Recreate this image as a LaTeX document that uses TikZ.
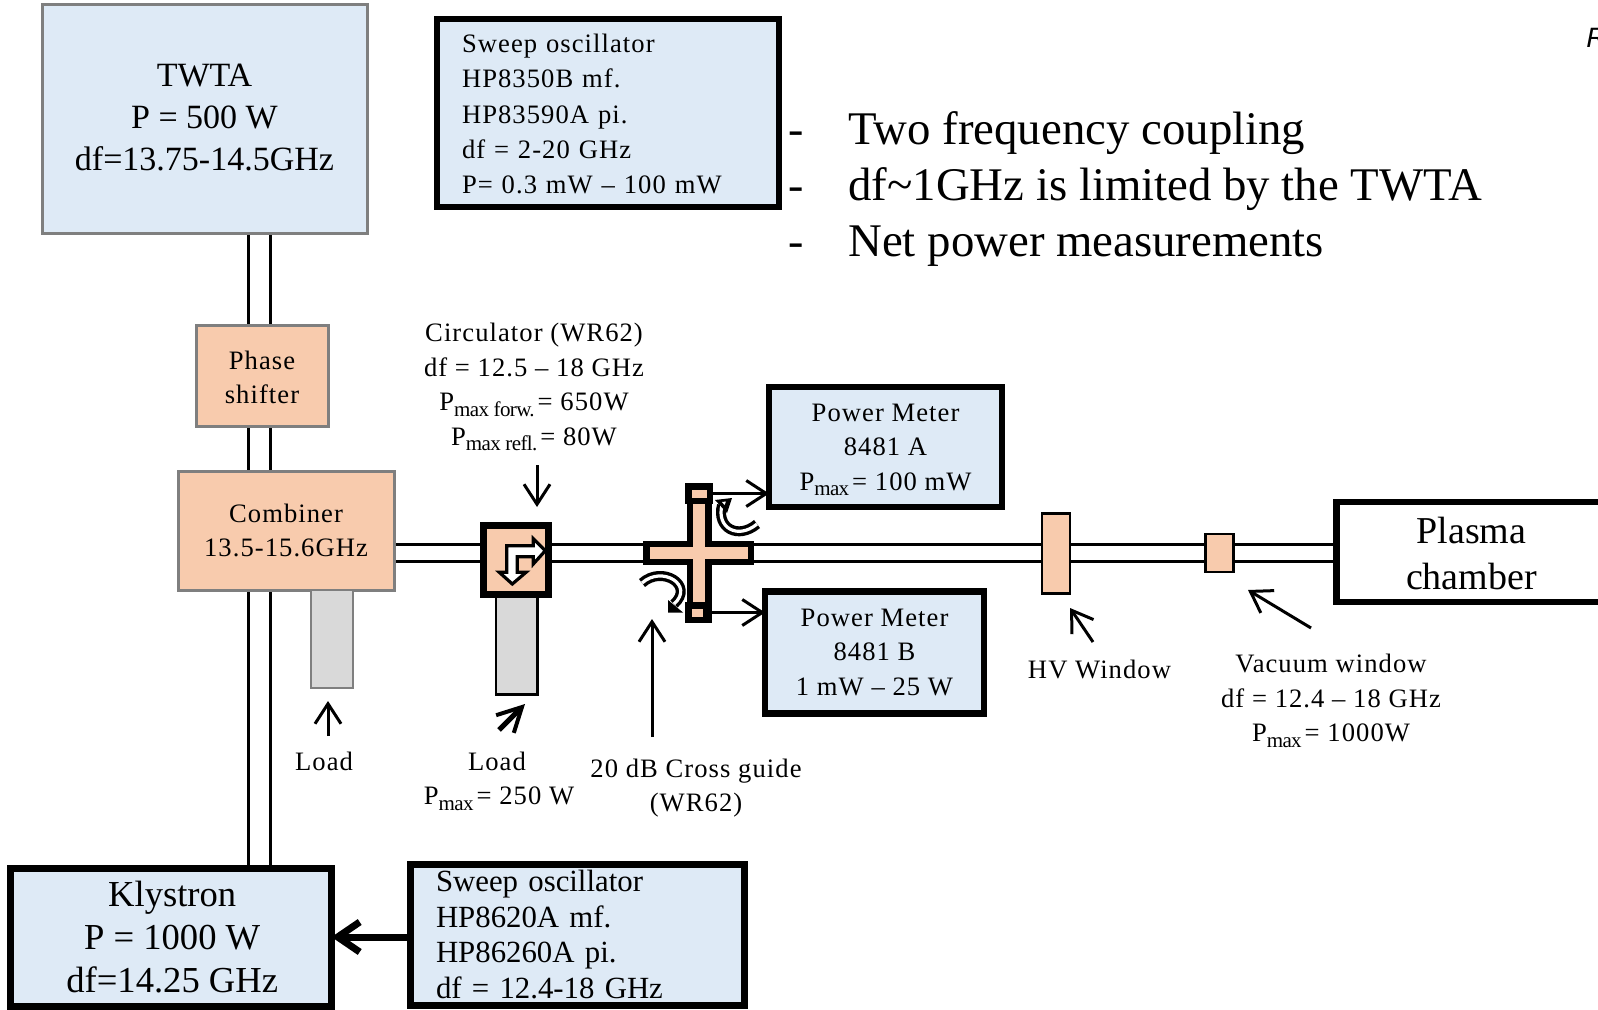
\documentclass[tikz,border=0pt]{standalone}
\usepackage{fontspec}
\setmainfont{Liberation Serif}
\newfontfamily\labfont[LetterSpace=4]{Liberation Serif}
\newfontfamily\sansit{Liberation Sans}
\usetikzlibrary{arrows.meta,backgrounds}
\definecolor{boxblue}{HTML}{DEEAF6}
\definecolor{boxorange}{HTML}{F8CBAD}
\definecolor{boxgray}{HTML}{D9D9D9}
\definecolor{edgegray}{HTML}{7F7F7F}
\newcommand{\lsub}[1]{\raisebox{-0.45ex}{\fontsize{10.5}{10.5}\selectfont\addfontfeature{LetterSpace=-3}#1}\hspace{1.5pt}}
\tikzset{
  wh/.style 2 args={minimum width=#1*0.5pt, minimum height=#2*0.5pt, inner sep=0pt, outer sep=0pt, rectangle},
  softbox/.style={draw=edgegray, line width=1.5pt},
  hardbox/.style={draw=black, line width=3.25pt},
  thinbox/.style={draw=black, line width=1.35pt},
  lab/.style={font=\fontsize{13.3}{17.3}\selectfont\labfont, align=center, inner sep=0pt},
  big/.style={font=\fontsize{17}{21}\selectfont, align=center, inner sep=0pt},
  guidev/.style={draw=black, line width=1.65pt, double=white, double distance=9.35pt},
  guideh/.style={draw=black, line width=1.65pt, double=white, double distance=6.85pt},
  ptr/.style={draw=black, line width=1.5pt, -{Straight Barb[length=10pt,width=13pt,line width=1.5pt]}},
  hollow/.style={draw=black, line width=1.7pt, double=white, double distance=1.6pt},
}
\begin{document}
\begin{tikzpicture}[x=0.5pt,y=-0.5pt]
\useasboundingbox (0,0) rectangle (1598,1010);
\clip (0,0) rectangle (1598,1010);
% boxes
\node[softbox, wh={325}{229}, fill=boxblue, label={[big, anchor=center, yshift=1pt]center:{TWTA\\P = 500 W\\df=13.75-14.5GHz}}] (twta) at (204.5,119.5) {};
\node[hardbox, wh={342}{188}, fill=boxblue, label={[lab, anchor=center, yshift=-0.5pt, align=left, text width=146pt, font=\fontsize{13.3}{17.6}\selectfont\labfont]center:{Sweep oscillator\\HP8350B mf.\\HP83590A pi.\\df = 2-20 GHz\\P= 0.3 mW – 100 mW}}] (sweepa) at (608,113) {};
\node[softbox, wh={132}{101}, fill=boxorange, label={[lab, anchor=center, yshift=-1pt]center:{Phase\\shifter}}] (phase) at (262,375.5) {};
\node[softbox, wh={216}{119}, fill=boxorange, lab] (combiner) at (286,530.5) {Combiner\\13.5-15.6GHz};
\node[draw=edgegray, line width=1.25pt, wh={42}{98}, fill=boxgray] (loada) at (332,639) {};
\node[thinbox, wh={41.5}{99.5}, fill=boxgray] (loadb) at (516.7,644.7) {};
\node[hardbox, wh={65.4}{69.4}, fill=boxorange] (circ) at (516,560) {};
\node[hardbox, wh={233}{120}, fill=boxblue, label={[lab, anchor=center, yshift=-1.5pt]center:{Power Meter\\8481 A\\P\lsub{max}= 100 mW}}] (pma) at (885.5,447) {};
\node[hardbox, wh={219}{122}, fill=boxblue, lab] (pmb) at (874.5,652.4) {Power Meter\\8481 B\\1 mW – 25 W};
\node[thinbox, wh={28}{80}, fill=boxorange] (hv) at (1056,553.4) {};
\node[thinbox, wh={28}{38}, fill=boxorange] (vac) at (1219.7,553) {};
\node[hardbox, wh={270}{100}, fill=white, label={[font=\fontsize{19}{23}\selectfont, align=center, inner sep=0pt, anchor=center, yshift=-0.5pt]center:{Plasma\\chamber}}] (plasma) at (1471.5,552) {};
\node[hardbox, line width=3.5pt, wh={321}{138}, fill=boxblue, label={[font=\fontsize{18.3}{21.5}\selectfont, align=center, inner sep=0pt, anchor=center, xshift=0.6pt, yshift=-0.2pt]center:{Klystron\\P = 1000 W\\df=14.25 GHz}}] (klystron) at (171,937) {};
\node[hardbox, line width=3.5pt, wh={334}{141}, fill=boxblue, label={[align=left, inner sep=0pt, text width=141pt, anchor=center, yshift=0.2pt, font=\fontsize{15.4}{17.8}\selectfont]center:{Sweep oscillator\\HP8620A mf.\\HP86260A pi.\\df = 12.4-18 GHz}}] (sweepb) at (577,935) {};
% cross guide
\path[draw=black, line width=3.25pt, fill=boxorange, line join=miter]
  (646.5,544) -- (690,544) -- (690,487) -- (708.5,487) -- (708.5,544) -- (751,544) -- (751,562) -- (708.5,562) -- (708.5,620) -- (690,620) -- (690,562) -- (646.5,562) -- cycle;
\node[hardbox, wh={21.5}{14.5}, fill=boxorange] (capa) at (699,493.5) {};
\node[hardbox, wh={17.5}{14.5}, fill=boxorange] (capb) at (697,612.5) {};
% waveguides
\coordinate (vx) at (259.5,0);
\coordinate (hy) at (0,553.2);
\begin{scope}[on background layer]
  \draw[guidev] (twta.south -| vx) -- (klystron.north -| vx);
  \draw[guideh] (combiner.east |- hy) -- (plasma.west |- hy);
\end{scope}
% circulator symbol
\path[draw=black, line width=1.6pt, fill=white, line join=miter]
 (512.3,584) -- (526,572.3) -- (517.3,572.3) -- (517.3,556.7) -- (533.3,556.7) -- (533.3,564) -- (545.3,550.7) -- (533.3,538.7) -- (533.3,545.7) -- (506.7,545.7) -- (506.7,572.3) -- (499.3,572.3) -- cycle;
% curved symbols
\draw[hollow] (757,524) .. controls (738,540) and (716,528) .. (722,505);
\fill[black] (715,500) -- (732,498) -- (727,513) -- cycle;
\fill[white] (722,502) -- (726,501.5) -- (724.5,505) -- cycle;
\draw[hollow] (642,583) .. controls (662,565) and (695,585) .. (674,604);
\fill[black] (668,600) -- (683,612.5) -- (668,612.5) -- cycle;
% connectors
\draw[ptr] (capa.east) -- (pma.west |- capa.east);
\draw[ptr] (capb.east) -- (pmb.west |- capb.east);
\draw[draw=black, line width=3.5pt, -{Straight Barb[length=11pt,width=15pt,line width=3.5pt]}] (sweepb.west |- 0,937) -- (klystron.east |- 0,937);
% labels
\node[lab] (circlab) at (534,387) {Circulator (WR62)\\df = 12.5 – 18 GHz\\P\lsub{max forw.}= 650W\\P\lsub{max refl.}= 80W};
\node[lab] (loadalab) at (324,761) {Load};
\node[lab] (loadblab) at (499,781) {Load\hspace*{2pt}\\P\lsub{max}= 250 W};
\node[lab] (crosslab) at (696,788) {20 dB Cross guide\\(WR62)};
\node[lab] (hvlab) at (1099.5,669.5) {HV Window};
\node[lab] (vaclab) at (1331,701) {Vacuum window\\df = 12.4 – 18 GHz\\P\lsub{max}= 1000W};
% pointers
\coordinate (pa) at (537,465); \coordinate (pb) at (537,507);
\draw[ptr] (pa) -- (pb);
\coordinate (pc) at (652,737); \coordinate (pd) at (652,619);
\draw[ptr] (pc) -- (pd);
\coordinate (pe) at (328,736); \coordinate (pf) at (328,701);
\draw[ptr] (pe) -- (pf);
\coordinate (pg) at (499,730); \coordinate (ph) at (525,704);
\draw[draw=black, line width=2.5pt, -{Straight Barb[length=12pt,width=12.5pt,line width=2pt]}] (pg) -- (ph);
\coordinate (pi) at (1093,642); \coordinate (pj) at (1070,608);
\draw[ptr] (pi) -- (pj);
\coordinate (pk) at (1311,628); \coordinate (pl) at (1248,590);
\draw[ptr] (pk) -- (pl);
% bullets
\node[font=\fontsize{23}{28}\selectfont, align=left, anchor=west, inner sep=0pt] (dashes) at (788,194.5) {-\\-\\-};
\node[font=\fontsize{23.4}{28}\selectfont, align=left, anchor=west, inner sep=0pt] (notes) at (848,189.5) {Two frequency coupling\\df\textasciitilde 1GHz is limited by the TWTA\\Net power measurements};
\node[font=\fontsize{14}{14}\selectfont\sansit\itshape, anchor=west, inner sep=0pt] (rmark) at (1586,38) {R};
\end{tikzpicture}
\end{document}
